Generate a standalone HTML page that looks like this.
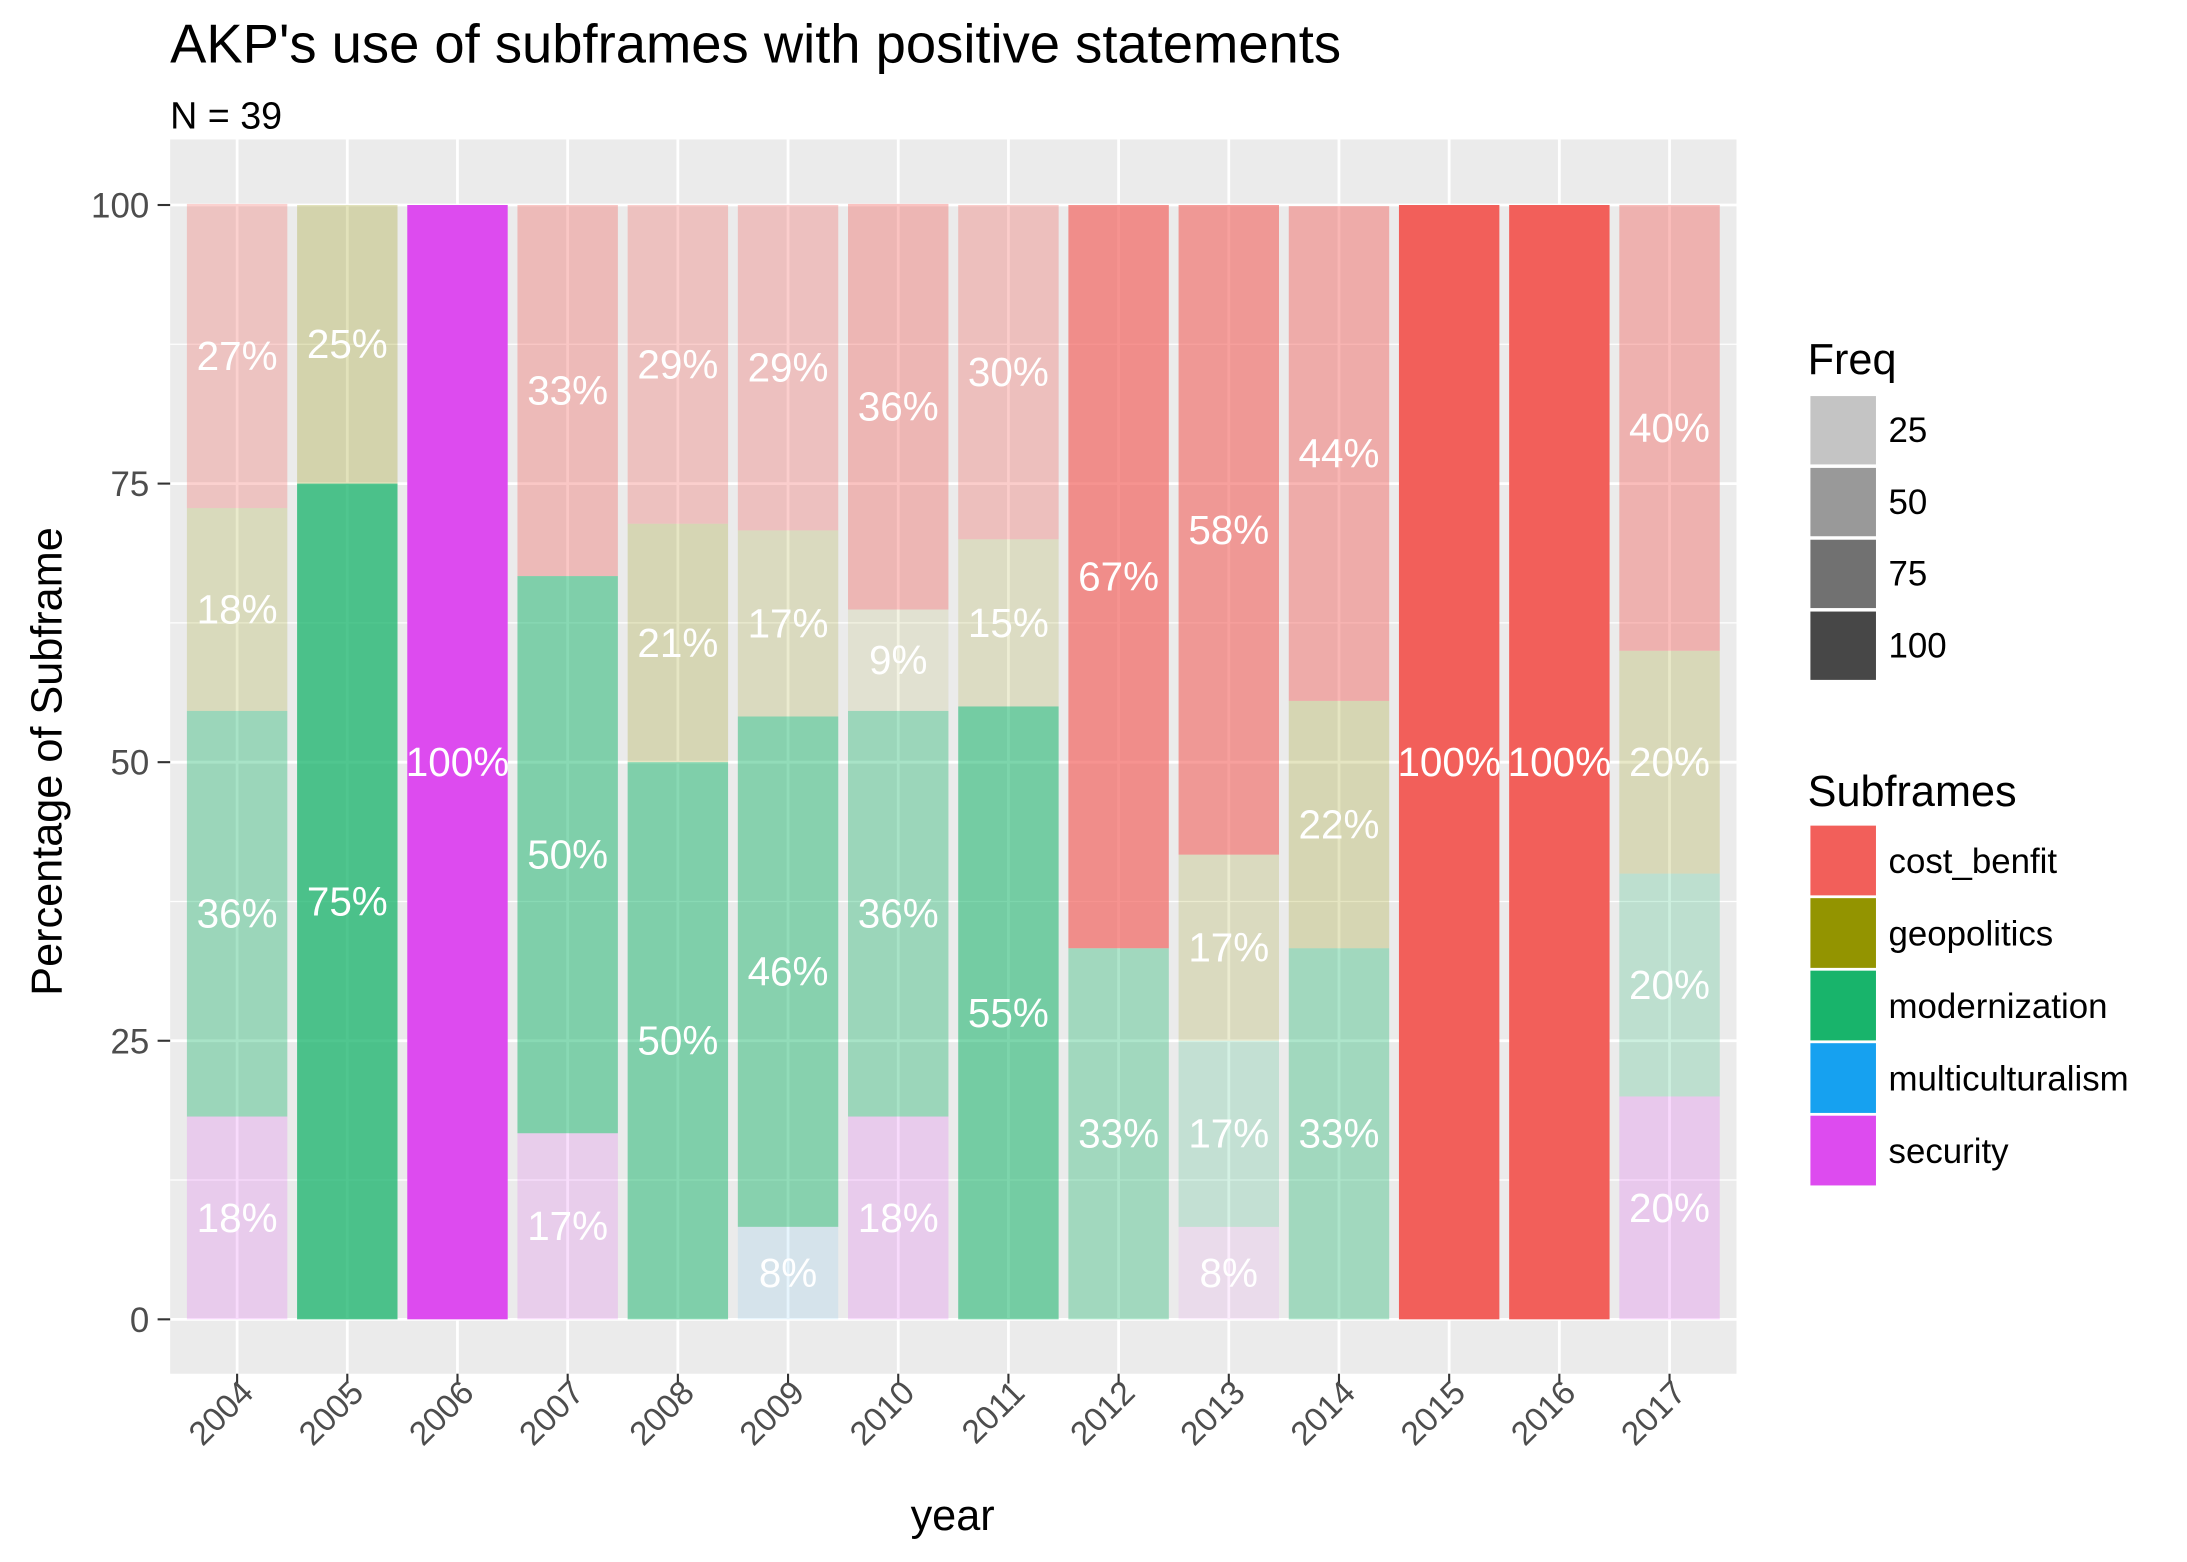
<!DOCTYPE html>
<html><head><meta charset="utf-8"><style>
html,body{margin:0;padding:0;background:#fff}
svg{display:block}
text{font-family:"Liberation Sans",sans-serif}
</style></head><body>
<svg id="chart" width="2187" height="1562" viewBox="0 0 1568 1120" preserveAspectRatio="none" xmlns="http://www.w3.org/2000/svg">
<text x="122" y="45" font-size="39" fill="#000">AKP's use of subframes with positive statements</text>
<text x="122" y="92" font-size="27" fill="#000">N = 39</text>
<rect x="122" y="100" width="1123" height="885" fill="#EBEBEB"/>
<g id="grid"></g>
<g id="bars"></g>
<g id="labels"></g>
<g id="axes"></g>
<text x="683" y="1097" font-size="31" text-anchor="middle" fill="#000">year</text>
<text transform="translate(44,546) rotate(-90)" font-size="31" text-anchor="middle" fill="#000">Percentage of Subframe</text>
<g id="legend"></g>
</svg>
<script>
const years = ["2004","2005","2006","2007","2008","2009","2010","2011","2012","2013","2014","2015","2016","2017"];
const subframes = ["security","multiculturalism","modernization","geopolitics","cost_benfit"];
const security =        [18.2,0,100,16.7,0,0,18.2,0,0,8.3,0,0,0,20];
const multiculturalism = [0,0,0,0,0,8.3,0,0,0,0,0,0,0,0];
const modernization =   [36.4,75,0,50,50,45.8,36.4,55,33.3,16.7,33.3,0,0,20];
const geopolitics =     [18.2,25,0,0,21.4,16.7,9.1,15,0,16.7,22.2,0,0,20];
const cost_benfit =     [27.3,0,0,33.3,28.6,29.2,36.4,30,66.7,58.3,44.4,100,100,40];
const yTicks = [0,25,50,75,100];
const freqLegend = ["25","50","75","100"];
const legendOrder = ["cost_benfit","geopolitics","modernization","multiculturalism","security"];

const colors = {cost_benfit:"#F25F5A",geopolitics:"#939400",modernization:"#18B46B",multiculturalism:"#16A1F0",security:"#DD4BEF"};
const series = {security,multiculturalism,modernization,geopolitics,cost_benfit};
const NS="http://www.w3.org/2000/svg";
const x0=170, step=79, bw=72;
const yScale=v=>946-v*7.99;
const xScale=i=>x0+i*step;
const alpha=v=>Math.min(1,0.1+0.9*(v-8)/92);
function mk(tag,attrs,parent){const e=document.createElementNS(NS,tag);for(const k in attrs)e.setAttribute(k,attrs[k]);parent.appendChild(e);return e;}
const grid=document.getElementById('grid'),bars=document.getElementById('bars'),labels=document.getElementById('labels'),axes=document.getElementById('axes'),legend=document.getElementById('legend');
for(let i=0;i<yTicks.length-1;i++){const v=(yTicks[i]+yTicks[i+1])/2;const l=mk('line',{x1:122,x2:1245,y1:yScale(v),y2:yScale(v),stroke:'#fff','stroke-width':0.9},grid);

}
yTicks.forEach(v=>{const l=mk('line',{x1:122,x2:1245,y1:yScale(v),y2:yScale(v),stroke:'#fff','stroke-width':2},grid);


const t=mk('text',{x:107,y:yScale(v)+9,'font-size':25,fill:'#4D4D4D','text-anchor':'end'},axes);t.textContent=v;


const tk=mk('line',{x1:113,x2:122,y1:yScale(v),y2:yScale(v),stroke:'#333','stroke-width':1.5},axes);

});
years.forEach((y,i)=>{const x=xScale(i);
const l=mk('line',{x1:x,x2:x,y1:100,y2:985,stroke:'#fff','stroke-width':2},grid);


const tk=mk('line',{x1:x,x2:x,y1:985,y2:992,stroke:'#333','stroke-width':1.5},axes);


const t=mk('text',{transform:`translate(${x+13},1000) rotate(-45)`,'font-size':24,fill:'#4D4D4D','text-anchor':'end'},axes);t.textContent=y;


let cum=0;
subframes.forEach(s=>{const v=series[s][i];if(!v)return;
const top=cum+v;
const r=mk('rect',{x:x-bw/2,y:yScale(top),width:bw,height:yScale(cum)-yScale(top),fill:colors[s],'fill-opacity':alpha(v)},bars);


const t=mk('text',{x:x,y:yScale(cum+v/2)+10,'font-size':29,fill:'#fff','text-anchor':'middle'},labels);t.textContent=Math.round(v)+'%';


cum=top;});
});
let t=mk('text',{x:1296,y:268,'font-size':31,fill:'#000'},legend);t.textContent='Freq';


const greys=['#C4C4C4','#999999','#717171','#474747'];
freqLegend.forEach((f,i)=>{const y=284+i*51.5;
const r=mk('rect',{x:1298,y:y,width:47,height:49,fill:greys[i]},legend);


const tt=mk('text',{x:1354,y:y+33,'font-size':25,fill:'#000'},legend);tt.textContent=f;

});
t=mk('text',{x:1296,y:578,'font-size':31,fill:'#000'},legend);t.textContent='Subframes';


legendOrder.forEach((s,i)=>{const y=592+i*52;
const r=mk('rect',{x:1298,y:y,width:47,height:50,fill:colors[s]},legend);


const tt=mk('text',{x:1354,y:y+34,'font-size':25,fill:'#000'},legend);tt.textContent=s;

});
</script>
</body></html>
